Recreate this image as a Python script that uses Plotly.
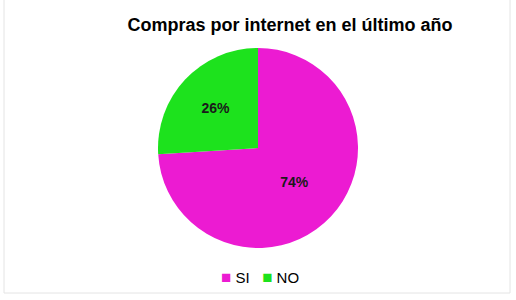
import plotly.graph_objects as go

labels = ["SI", "NO"]
values = [74, 26]
colors = ["#EC1BD2", "#1DE21D"]
title = "Compras por internet en el último año"

W, H = 516, 300
cx, cy, r = 258, 148, 100

fig = go.Figure(go.Pie(
    labels=labels, values=values, sort=False, direction="clockwise", rotation=0,
    marker=dict(colors=colors, line=dict(width=0)),
    textinfo="percent", texttemplate="<b>%{percent:.0%}</b>",
    textposition="inside", insidetextorientation="horizontal",
    textfont=dict(family="Liberation Sans, Arial", size=14, color="#1a1a1a"),
    domain=dict(x=[(cx - r) / W, (cx + r) / W], y=[1 - (cy + r) / H, 1 - (cy - r) / H]),
    hoverinfo="skip", showlegend=False,
))

legend_text = "&nbsp;&nbsp;&nbsp;".join(
    f"<span style='color:{c};font-size:17px'>■</span>&nbsp;{lab}" for lab, c in zip(labels, colors)
)

fig.update_layout(
    width=W, height=H, margin=dict(l=0, r=0, t=0, b=0),
    paper_bgcolor="white", plot_bgcolor="white",
    font=dict(family="Liberation Sans, Arial", color="#000"),
    title=dict(text="<b>" + title + "</b>", x=290 / W, xanchor="center", y=1 - 25 / H, yanchor="middle",
               font=dict(size=18, color="#000")),
    annotations=[dict(text=legend_text, xref="paper", yref="paper", x=260 / W, y=1 - 277 / H,
                      xanchor="center", yanchor="middle", showarrow=False,
                      font=dict(size=15, color="#000"))],
    shapes=[dict(type="rect", xref="paper", yref="paper", x0=4 / W, x1=510 / W, y0=1 - 293 / H, y1=1.02,
                 line=dict(color="#e4e4e4", width=1))],
)

fig.write_html("out.html")
